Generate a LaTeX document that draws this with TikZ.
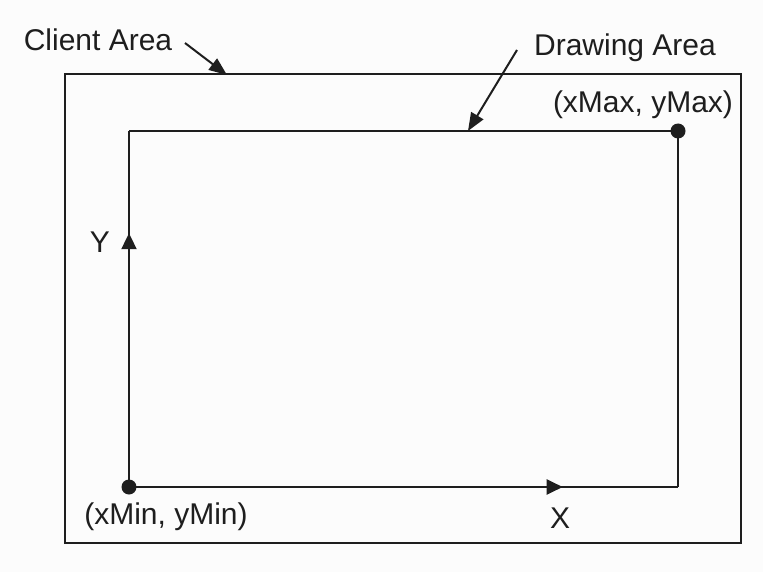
\documentclass[tikz,border=0pt]{standalone}
\usepackage{fontspec}
\setmainfont{Liberation Sans}
\usetikzlibrary{arrows.meta,decorations.markings}
\definecolor{ink}{HTML}{1E1E1E}
\definecolor{bg}{HTML}{FCFCFC}
\tikzset{
  frame/.style={draw=ink, line width=2pt},
  lbl/.style={font=\fontsize{30}{30}\selectfont, text=ink, inner sep=0pt},
  pointer/.style={draw=ink, line width=2pt, -{Triangle[length=18pt,width=14pt]}},
  dot/.style={circle, fill=ink, minimum size=15pt, inner sep=0pt},
  midtip/.style={decoration={markings, mark=at position #1 with {\arrow{Triangle[length=16pt,width=15pt]}}}, postaction={decorate}}
}
\begin{document}
\begin{tikzpicture}[x=1pt,y=-1pt]
\fill[bg] (0,0) rectangle (763,572);
\useasboundingbox (0,0) rectangle (763,572);
% outer client rectangle
\coordinate (c1) at (65,74);
\coordinate (c2) at (741,543);
\draw[frame] (c1) rectangle (c2);
% inner drawing rectangle corners
\coordinate (pmin) at (129,487);
\coordinate (ptl) at (129,131);
\coordinate (pmax) at (678,131);
\coordinate (pbr) at (678,487);
\draw[frame] (ptl) -- (pmax) -- (pbr);
\draw[frame, midtip=0.713] (pmin) -- (ptl);
\draw[frame, midtip=0.79] (pmin) -- (pbr);
\node[dot] (dmin) at (pmin) {};
\node[dot] (dmax) at (pmax) {};
% labels
\node[lbl] (client) at (98,40) {Client Area};
\node[lbl] (drawing) at (625,48) {Drawing Area};
\node[lbl] (maxl) at (643,105) {(xMax, yMax)};
\node[lbl] (minl) at (166,517) {(xMin, yMin)};
\node[lbl] (ylbl) at (100,242) {Y};
\node[lbl] (xlbl) at (560,518) {X};
% pointers
\coordinate (ca0) at (185,43);
\coordinate (ca1) at (227,75);
\draw[pointer] (ca0) -- (ca1);
\coordinate (da0) at (517,50);
\coordinate (da1) at (468,131);
\draw[pointer] (da0) -- (da1);
\end{tikzpicture}
\end{document}
